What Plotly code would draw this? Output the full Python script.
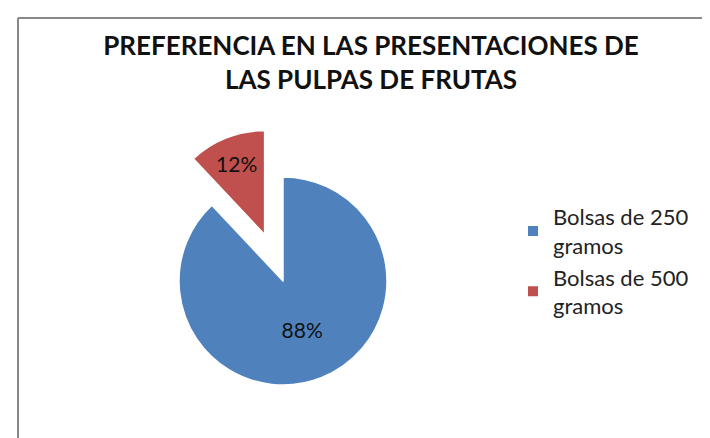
import plotly.graph_objects as go

labels = ["Bolsas de 250<br>gramos", "Bolsas de 500<br>gramos"]
values = [88, 12]
colors = ["#4F81BD", "#C0504D"]
pulls = [0, 0.48]

W, H = 710, 438
cx, cy, r = 275, 273, 104
box = 2 * r * (1 + pulls[1])

fig = go.Figure(go.Pie(
    labels=labels, values=values, sort=False, direction="clockwise", rotation=0,
    pull=pulls, marker=dict(colors=colors, line=dict(color="white", width=1.5)),
    textinfo="percent", texttemplate="%{percent:.0%}", textposition="inside",
    insidetextorientation="horizontal",
    textfont=dict(family="Lato, Liberation Sans, Arial, sans-serif", size=21, color="#111"),
    domain=dict(x=[(cx - box / 2) / W, (cx + box / 2) / W],
                y=[1 - (cy + box / 2) / H, 1 - (cy - box / 2) / H]),
    hoverinfo="label+percent",
))

fig.update_layout(
    width=W, height=H, margin=dict(l=0, r=0, t=0, b=0),
    paper_bgcolor="white", plot_bgcolor="white",
    title=dict(text="<b>PREFERENCIA EN LAS PRESENTACIONES DE<br>LAS PULPAS DE FRUTAS</b>",
               x=363 / W, xanchor="center", y=1 - 47 / H, yanchor="top",
               font=dict(family="Lato, Liberation Sans, Arial, sans-serif",
                         size=26, color="#111")),
    legend=dict(x=505 / W, y=1 - 188 / H, xanchor="left", yanchor="top",
                font=dict(family="Lato, Liberation Sans, Arial, sans-serif", size=22, color="#222"),
                itemsizing="constant", bgcolor="rgba(0,0,0,0)"),
    shapes=[
        dict(type="line", xref="paper", yref="paper", x0=10 / W, x1=1.0, y0=1 - 10 / H, y1=1 - 10 / H,
             line=dict(color="#888", width=2)),
        dict(type="line", xref="paper", yref="paper", x0=10 / W, x1=10 / W, y0=0, y1=1 - 10 / H,
             line=dict(color="#888", width=2)),
    ],
)

fig.write_html("out.html")
